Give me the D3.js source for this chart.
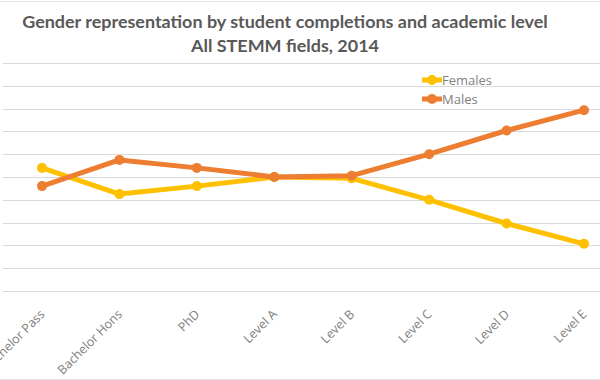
<!DOCTYPE html>
<html>
<head>
<meta charset="utf-8">
<script src="https://cdn.jsdelivr.net/npm/d3@7"></script>
<style>
  html, body { margin: 0; padding: 0; background: #fff; }
  svg { display: block; }
</style>
</head>
<body>
<svg id="chart" width="600" height="380"></svg>
<script>
const categories = ["Bachelor Pass", "Bachelor Hons", "PhD", "Level A", "Level B", "Level C", "Level D", "Level E"];
const females = [54, 42.5, 46, 50, 49.4, 40, 29.6, 20.7];
const males = [46, 57.5, 54, 50, 50.6, 60, 70.4, 79.3];
const yTicks = [0, 10, 20, 30, 40, 50, 60, 70, 80, 90, 100];
const titleLines = ["Gender representation by student completions and academic level", "All STEMM fields, 2014"];
const seriesNames = ["Females", "Males"];
const seriesColors = ["#FFC000", "#ED7D31"];

const svg = d3.select("#chart");
const W = 600, H = 380;

// chart frame lines
svg.append("line").attr("x1", 0).attr("x2", W).attr("y1", 1.5).attr("y2", 1.5)
  .attr("stroke", "#e3e3e3").attr("stroke-width", 1);
svg.append("line").attr("x1", 0).attr("x2", W).attr("y1", 379.5).attr("y2", 379.5)
  .attr("stroke", "#e3e3e3").attr("stroke-width", 1);

const x = d3.scalePoint().domain(categories).range([42, 584]);
const y = d3.scaleLinear().domain([0, 100]).range([291, 63]);

// gridlines
const grid = svg.append("g").attr("class", "grid")
  .call(d3.axisLeft(y).tickValues(yTicks).tickSize(-597).tickFormat(""))
  .attr("transform", "translate(3,0)");
grid.select(".domain").remove();
grid.selectAll(".tick line").attr("stroke", "#d9d9d9").attr("stroke-width", 1)
  .attr("shape-rendering", "crispEdges");

// x axis labels
const xAxis = svg.append("g").attr("transform", "translate(0,291)")
  .call(d3.axisBottom(x).tickSize(0).tickFormat(d => d));
xAxis.select(".domain").remove();
xAxis.attr("font-family", "'Open Sans', sans-serif").attr("font-size", 12.5);
xAxis.selectAll(".tick text")
  .attr("font-family", "'Open Sans', sans-serif")
  .attr("font-size", 12.5)
  .attr("fill", "#808080")
  .attr("text-anchor", "end")
  .attr("dy", 0)
  .attr("y", 0)
  .attr("transform", "translate(3,24) rotate(-45)");

// lines
const data = [females, males];
const line = d3.line().x((d, i) => x(categories[i])).y(d => y(d));
data.forEach((vals, s) => {
  const g = svg.append("g");
  g.append("path").datum(vals).attr("d", line)
    .attr("fill", "none").attr("stroke", seriesColors[s])
    .attr("stroke-width", 5).attr("stroke-linejoin", "round").attr("stroke-linecap", "round");
  g.selectAll("circle").data(vals).join("circle")
    .attr("cx", (d, i) => x(categories[i])).attr("cy", d => y(d))
    .attr("r", 5).attr("fill", seriesColors[s]);
});

// legend
const legend = svg.append("g").attr("transform", "translate(422,80)");
seriesNames.forEach((n, i) => {
  const g = legend.append("g").attr("transform", `translate(0,${i * 19})`);
  g.append("line").attr("x1", 0).attr("x2", 20).attr("y1", 0).attr("y2", 0)
    .attr("stroke", seriesColors[i]).attr("stroke-width", 5);
  g.append("circle").attr("cx", 10).attr("cy", 0).attr("r", 5).attr("fill", seriesColors[i]);
  g.append("text").attr("x", 20).attr("y", 0).attr("dy", "0.35em")
    .attr("font-family", "'Open Sans', sans-serif").attr("font-size", 13)
    .attr("fill", "#7f7f7f").text(n);
});

// title
const title = svg.append("g").attr("font-family", "Lato, sans-serif").attr("font-weight", 700)
  .attr("fill", "#595959").attr("text-anchor", "middle");
const t1 = title.append("text").attr("x", 285).attr("y", 28).attr("font-size", 18).text(titleLines[0]);
const w = t1.node().getComputedTextLength();
const fs = 18 * 526 / w;
t1.attr("font-size", fs);
title.append("text").attr("x", 285).attr("y", 52).attr("font-size", fs).text(titleLines[1]);
</script>
</body>
</html>
